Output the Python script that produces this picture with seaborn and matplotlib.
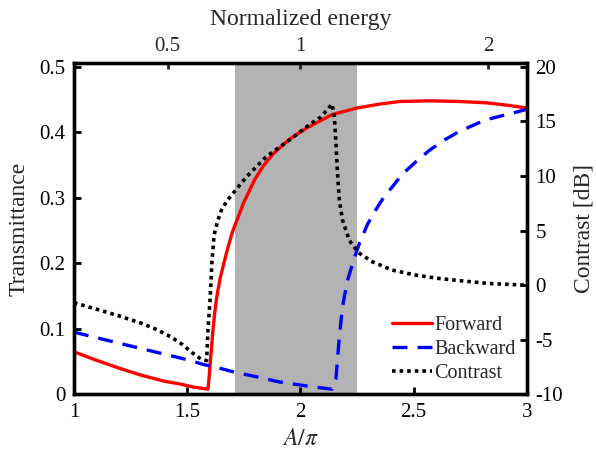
import numpy as np
import pandas as pd
import matplotlib
matplotlib.use("Agg")
import matplotlib.pyplot as plt
import seaborn as sns

## data
fwd_x = [1.0, 1.1, 1.2, 1.3, 1.4, 1.467, 1.53, 1.592, 1.597, 1.602, 1.608, 1.614,
         1.622, 1.631, 1.645, 1.662, 1.68, 1.700, 1.75, 1.797, 1.837, 1.877,
         1.95, 2.03, 2.14, 2.25, 2.35, 2.44, 2.57, 2.7, 2.82, 2.92, 3.0]
fwd_y = [0.065, 0.052, 0.040, 0.029, 0.020, 0.016, 0.011, 0.008, 0.026, 0.048, 0.073, 0.098,
         0.125, 0.149, 0.176, 0.200, 0.224, 0.248, 0.293, 0.327, 0.349, 0.366,
         0.389, 0.407, 0.427, 0.437, 0.443, 0.447, 0.448, 0.447, 0.445, 0.441, 0.437]

bwd_x = [1.0, 1.13, 1.26, 1.38, 1.5, 1.568, 1.643, 1.72, 1.805, 1.907, 2.025, 2.09, 2.14,
         2.157, 2.172, 2.186, 2.208, 2.238, 2.26, 2.297, 2.33, 2.363, 2.45, 2.51, 2.568,
         2.63, 2.70, 2.818, 2.934, 3.0]
bwd_y = [0.095, 0.084, 0.073, 0.063, 0.053, 0.046, 0.040, 0.033, 0.027, 0.019, 0.013, 0.010, 0.008,
         0.024, 0.088, 0.134, 0.174, 0.208, 0.230, 0.260, 0.280, 0.298, 0.336, 0.355, 0.372,
         0.387, 0.401, 0.419, 0.429, 0.435]

con_x = [1.0, 1.1, 1.2, 1.3, 1.364, 1.43, 1.48, 1.52, 1.56, 1.586,
         1.592, 1.602, 1.609, 1.619, 1.635, 1.651, 1.675, 1.702, 1.761, 1.849, 1.952, 2.04,
         2.09, 2.12, 2.14, 2.15, 2.157, 2.164, 2.172, 2.186, 2.216, 2.257, 2.318, 2.406,
         2.51, 2.61, 2.72, 2.83, 2.92, 3.0]
con_y = [-1.6, -2.2, -2.82, -3.5, -4.05, -4.75, -5.45, -6.15, -6.75, -6.9,
         -4.1, -1.06, 2.0, 4.6, 5.9, 6.85, 7.7, 8.4, 9.9, 11.76, 13.3, 14.7,
         15.4, 16.1, 16.6, 15.4, 13.0, 10.2, 7.8, 5.96, 4.1, 2.97, 2.14, 1.38,
         0.92, 0.62, 0.38, 0.16, 0.07, 0.0]

band = (1.712, 2.252)
energy_ticks = [0.5, 1, 2]

sns.set_style("ticks")
plt.rcParams['font.family'] = ['Liberation Serif', 'DejaVu Serif']
plt.rcParams['mathtext.fontset'] = 'stix'
plt.rcParams['axes.unicode_minus'] = False

fig = plt.figure(figsize=(5.96, 4.57), dpi=100)
ax = fig.add_axes([0.124, 0.137, 0.760, 0.725])
ax2 = ax.twinx()

ax.axvspan(*band, color='#b3b3b3', lw=0, zorder=0)

df_f = pd.DataFrame({"x": fwd_x, "y": fwd_y})
df_b = pd.DataFrame({"x": bwd_x, "y": bwd_y})
df_c = pd.DataFrame({"x": con_x, "y": con_y})

sns.lineplot(data=df_f, x="x", y="y", ax=ax, color='#ff0000', lw=2.4,
             sort=False, estimator=None, label="Forward")
sns.lineplot(data=df_b, x="x", y="y", ax=ax, color='#0000ff', lw=2.4,
             sort=False, estimator=None, label="Backward")
ax.lines[-1].set_dashes((4.5, 3))
sns.lineplot(data=df_c, x="x", y="y", ax=ax2, color='black', lw=2.6,
             sort=False, estimator=None, label="Contrast")
ax2.lines[-1].set_dashes((1, 1.1))

ax.set_xlim(1, 3)
ax.set_ylim(0, 0.5056)
ax2.set_ylim(-10, 20.34)
ax.set_xticks([1, 1.5, 2, 2.5, 3])
ax.set_xticklabels(["1", "1.5", "2", "2.5", "3"])
ax.set_yticks([0, 0.1, 0.2, 0.3, 0.4, 0.5])
ax.set_yticklabels(["0", "0.1", "0.2", "0.3", "0.4", "0.5"])
ax2.set_yticks([-10, -5, 0, 5, 10, 15, 20])

ax.set_xlabel(r"$A/\pi$", fontsize=17, labelpad=5)
ax.set_ylabel("Transmittance", fontsize=17, labelpad=7)
ax2.set_ylabel("Contrast [dB]", fontsize=17, labelpad=8)

top = ax.secondary_xaxis('top', functions=(lambda x: (x / 2) ** 2,
                                            lambda e: 2 * np.sqrt(np.clip(e, 0, None))))
top.set_xticks(energy_ticks)
top.set_xticklabels(["0.5", "1", "2"])
top.set_xlabel("Normalized energy", fontsize=17, labelpad=9)
top.tick_params(direction='in', length=4, width=2, labelsize=15, pad=5)

for a in (ax, ax2):
    for s in a.spines.values():
        s.set_linewidth(2.4)
        s.set_color('black')
ax.tick_params(direction='in', length=5, width=2, labelsize=15, pad=6, colors='black')
ax2.tick_params(direction='in', length=5, width=2, labelsize=15, pad=6, colors='black')

h1, l1 = ax.get_legend_handles_labels()
h2, l2 = ax2.get_legend_handles_labels()
if ax.get_legend():
    ax.get_legend().remove()
ax2.legend(h1 + h2, l1 + l2, loc='upper left', bbox_to_anchor=(0.702, 0.238),
           frameon=False, fontsize=14.5, handlelength=2.0, handletextpad=0.1,
           labelspacing=0.25, borderpad=0, borderaxespad=0)

plt.savefig("out.png", dpi=100)
